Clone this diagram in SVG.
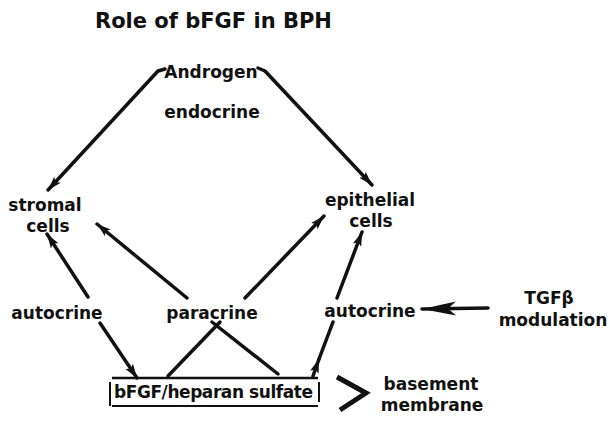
<svg xmlns="http://www.w3.org/2000/svg" width="610" height="422" viewBox="0 0 610 422">
  <defs>
    <style>
      .t { font-family: "DejaVu Sans", "Liberation Sans", sans-serif; font-weight: bold; fill: #111; font-size: 17px; }
      .m { text-anchor: middle; }
      .ln { fill: none; stroke: #111; stroke-width: 3.5; stroke-linecap: round; stroke-linejoin: round; }
      .bx { fill: none; stroke: #111; stroke-width: 2.5; }
    </style>
    <marker id="ah" markerUnits="userSpaceOnUse" markerWidth="16" markerHeight="12" refX="14" refY="6" orient="auto">
      <path d="M0,1.5 L14,6 L0,10.5 L3,6 Z" fill="#111"/>
    </marker>
    <marker id="ahBig" markerUnits="userSpaceOnUse" markerWidth="36" markerHeight="18" refX="34" refY="9" orient="auto">
      <path d="M0,2 L34,9 L0,16 L8,9 Z" fill="#111"/>
    </marker>
  </defs>
  <rect width="610" height="422" fill="#fff"/>

  <text class="t" x="95" y="28" style="font-size:21px">Role of bFGF in BPH</text>

  <g id="androgen"><text class="t m" x="211" y="78">Androgen</text></g>
  <g id="endocrine"><text class="t m" x="212" y="118">endocrine</text></g>
  <g id="stromal"><text class="t m" x="45" y="211">stromal</text><text class="t m" x="48" y="232">cells</text></g>
  <g id="epithelial"><text class="t m" x="370" y="206">epithelial</text><text class="t m" x="371" y="227">cells</text></g>
  <g id="autocrineL"><text class="t m" x="57" y="319">autocrine</text></g>
  <g id="paracrine"><text class="t m" x="212" y="319">paracrine</text></g>
  <g id="autocrineR"><text class="t m" x="370" y="317">autocrine</text></g>
  <g id="tgfb"><text class="t m" x="549" y="304">TGFβ</text><text class="t m" x="553" y="326">modulation</text></g>
  <g id="bfgf">
    <line class="bx" x1="112" y1="378" x2="318" y2="378"/>
    <line class="bx" x1="112" y1="406" x2="318" y2="406" style="stroke-width:2"/>
    <line class="bx" x1="110" y1="382" x2="110" y2="406" style="stroke-width:2"/>
    <line class="bx" x1="319" y1="382" x2="319" y2="402" style="stroke-width:2"/>
    <text class="t" x="114" y="398" textLength="199" lengthAdjust="spacing">bFGF/heparan sulfate</text>
  </g>
  <g id="basement">
    <path d="M337,377 L366,393 L340,410" fill="none" stroke="#111" stroke-width="5" stroke-linejoin="miter"/>
    <text class="t m" x="431" y="390">basement</text>
    <text class="t m" x="432" y="411">membrane</text>
  </g>

  <g id="connectors">
    <path class="ln" d="M165,69 L158,71 L48,190" marker-end="url(#ah)"/>
    <path class="ln" d="M258,68 L265,71 L372,185" marker-end="url(#ah)"/>
    <path class="ln" d="M88,297 L47,234" marker-end="url(#ah)"/>
    <path class="ln" d="M187,298 L97,224" marker-end="url(#ah)"/>
    <path class="ln" d="M245,298 L324,216" marker-end="url(#ah)"/>
    <path class="ln" d="M337,298 L362,232" marker-end="url(#ah)"/>
    <path class="ln" d="M100,323 L137,378" marker-end="url(#ah)"/>
    <path class="ln" d="M168,376 L220,322"/>
    <path class="ln" d="M212,322 L278,374"/>
    <path class="ln" d="M313,376 L319,359" marker-end="url(#ah)"/>
    <path class="ln" d="M319,359 L333,322"/>
    <path class="ln" d="M488,308 L422,309" marker-end="url(#ahBig)"/>
  </g>
</svg>
